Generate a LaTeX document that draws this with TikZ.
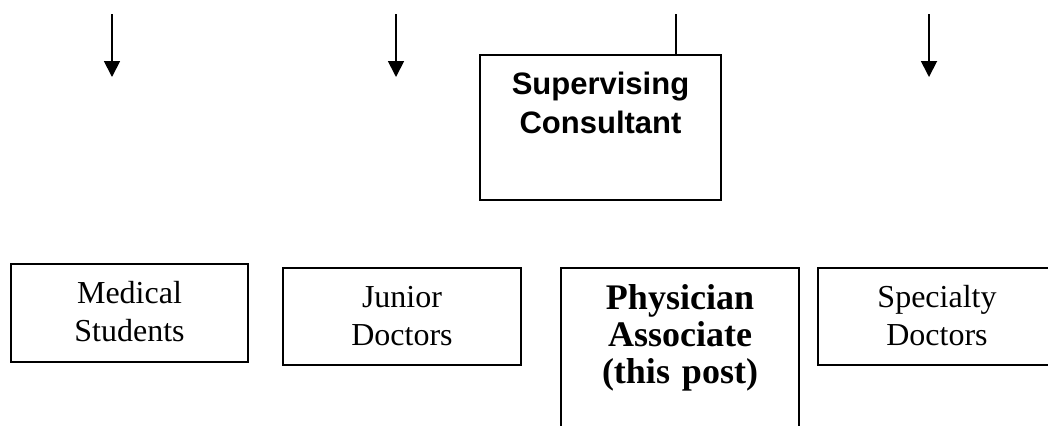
\documentclass[tikz,border=0pt]{standalone}
\usepackage{fontspec}
\setmainfont{Liberation Serif}
\newfontfamily\headfont{Liberation Sans}
\usetikzlibrary{arrows.meta}

\begin{document}
\begin{tikzpicture}[x=0.5pt, y=-0.5pt, ->, >={Triangle[length=8pt, width=8pt]}, line width=0.9pt,
	box/.style={draw, anchor=north, inner sep=0pt, align=center, text width=119pt, text height=20pt, text depth=28.5pt, font=\fontsize{16}{19}\selectfont},
	head/.style={box, font=\headfont\bfseries\fontsize{15.5}{19.5}\selectfont},
	post/.style={box, font=\bfseries\fontsize{18}{18.5}\selectfont}]

	\clip (0,0) rectangle (1048,425);

	\node[head, text width=120.5pt, text depth=52.5pt] (sup) at (600.5,54) {Supervising\\Consultant};
	\node[box, text width=118.5pt, text depth=29pt] (med) at (129.5,263) {Medical\\Students};
	\node[box] (jun) at (402,267) {Junior\\Doctors};
	\node[post, text height=21pt, text depth=75pt] (phy) at (680,267) {Physician\\Associate\\(this post)};
	\node[box] (spe) at (937,267) {Specialty\\Doctors};

	\coordinate (t1) at (112,14);
	\coordinate (t2) at (396,14);
	\coordinate (t3) at (676,14);
	\coordinate (t4) at (929,14);
	\coordinate (b1) at (112,77);
	\coordinate (b2) at (396,77);
	\coordinate (b4) at (929,77);

	\path
	(t1) edge (b1)
	(t2) edge (b2)
	(t3) edge[-] (t3 |- sup.north)
	(t4) edge (b4);

\end{tikzpicture}
\end{document}
